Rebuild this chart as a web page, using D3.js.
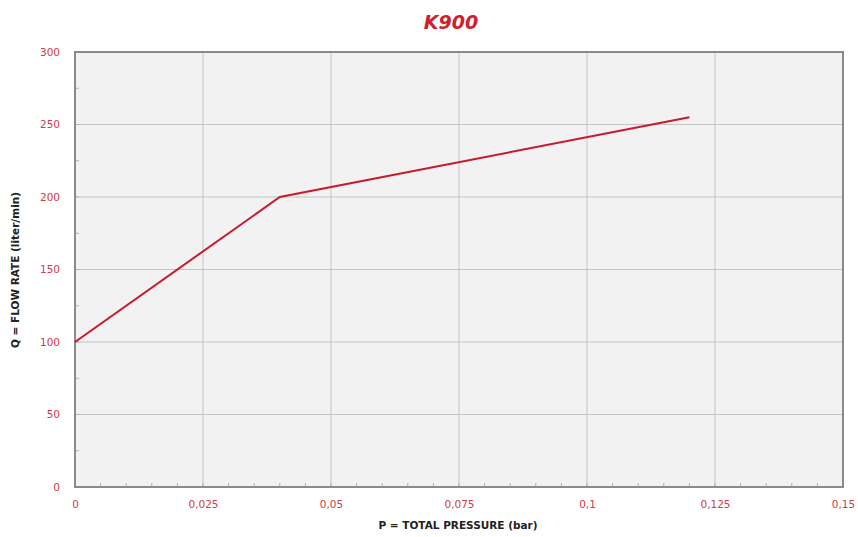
<!DOCTYPE html>
<html>
<head>
<meta charset="utf-8">
<script src="https://cdn.jsdelivr.net/npm/d3@7"></script>
<style>
  body { margin: 0; background: #fff; font-family: "DejaVu Sans", sans-serif; }
  .tick text { fill: #d23a4a; font-size: 10.5px; font-family: "DejaVu Sans", sans-serif; }
</style>
</head>
<body>
<div id="chart"></div>
<script>
// data
var pressure = [0, 0.04, 0.12];
var flow = [100, 200, 255];
var xTicks = [0, 0.025, 0.05, 0.075, 0.1, 0.125, 0.15];
var xTickLabels = ["0", "0,025", "0,05", "0,075", "0,1", "0,125", "0,15"];
var yTicks = [0, 50, 100, 150, 200, 250, 300];

var svgWidth = 858;
var svgHeight = 537;
var margin = { top: 52, right: 15, bottom: 50, left: 75 };
var width = svgWidth - margin.left - margin.right;
var height = svgHeight - margin.top - margin.bottom;

var svg = d3.select("#chart").append("svg")
  .attr("width", svgWidth)
  .attr("height", svgHeight);

var chartGroup = svg.append("g")
  .attr("transform", `translate(${margin.left}, ${margin.top})`);

var x = d3.scaleLinear().domain([0, 0.15]).range([0, width]);
var y = d3.scaleLinear().domain([0, 300]).range([height, 0]);

// plot background
chartGroup.append("rect")
  .attr("width", width)
  .attr("height", height)
  .attr("fill", "#f2f2f2");

// gridlines
chartGroup.selectAll(".vgrid").data(xTicks).enter().append("line")
  .attr("x1", d => x(d)).attr("x2", d => x(d))
  .attr("y1", 0).attr("y2", height)
  .attr("stroke", "#c4c4c4").attr("stroke-width", 1);
chartGroup.selectAll(".hgrid").data(yTicks).enter().append("line")
  .attr("x1", 0).attr("x2", width)
  .attr("y1", d => y(d)).attr("y2", d => y(d))
  .attr("stroke", "#c4c4c4").attr("stroke-width", 1);

// minor ticks (inside)
var xMinor = d3.range(0, 0.1501, 0.005);
chartGroup.selectAll(".xminor").data(xMinor).enter().append("line")
  .attr("x1", d => x(d)).attr("x2", d => x(d))
  .attr("y1", height).attr("y2", height - 4)
  .attr("stroke", "#b0b0b0");
var yMinor = d3.range(0, 301, 25);
chartGroup.selectAll(".yminor").data(yMinor).enter().append("line")
  .attr("x1", 0).attr("x2", 4)
  .attr("y1", d => y(d)).attr("y2", d => y(d))
  .attr("stroke", "#b0b0b0");

// border
chartGroup.append("rect")
  .attr("width", width)
  .attr("height", height)
  .attr("fill", "none")
  .attr("stroke", "#8a8a8a")
  .attr("stroke-width", 2);

// axes
var bottomAxis = d3.axisBottom(x).tickValues(xTicks)
  .tickFormat((d, i) => xTickLabels[i]).tickSize(0).tickPadding(14);
var leftAxis = d3.axisLeft(y).tickValues(yTicks).tickSize(0).tickPadding(15);

chartGroup.append("g")
  .attr("transform", `translate(0, ${height})`)
  .call(bottomAxis)
  .call(g => g.select(".domain").remove());
chartGroup.append("g")
  .call(leftAxis)
  .call(g => g.select(".domain").remove());

// line
var line = d3.line().x(d => x(d[0])).y(d => y(d[1]));
chartGroup.append("path")
  .datum(pressure.map((p, i) => [p, flow[i]]))
  .attr("d", line)
  .attr("fill", "none")
  .attr("stroke", "#c8192e")
  .attr("stroke-width", 2);

// title
svg.append("text")
  .attr("x", 451).attr("y", 29)
  .attr("text-anchor", "middle")
  .attr("fill", "#d0202e")
  .style("font-size", "19px")
  .style("font-weight", "bold")
  .style("font-style", "italic")
  .text("K900");

// axis titles
svg.append("text")
  .attr("x", 458).attr("y", 529)
  .attr("text-anchor", "middle")
  .attr("fill", "#222")
  .style("font-size", "10.5px")
  .style("font-weight", "bold")
  .text("P = TOTAL PRESSURE (bar)");

svg.append("text")
  .attr("transform", "rotate(-90)")
  .attr("x", -270).attr("y", 19)
  .attr("text-anchor", "middle")
  .attr("fill", "#222")
  .style("font-size", "10.5px")
  .style("font-weight", "bold")
  .text("Q = FLOW RATE (liter/min)");
</script>
</body>
</html>
